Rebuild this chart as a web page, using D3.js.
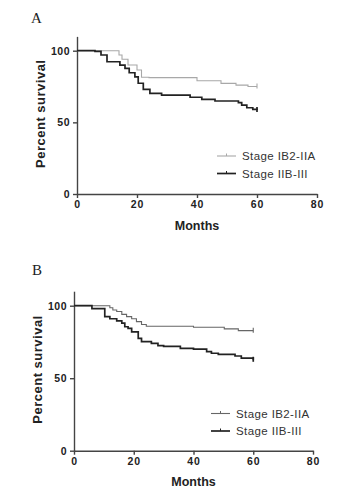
<!DOCTYPE html>
<html><head><meta charset="utf-8">
<script src="https://cdn.jsdelivr.net/npm/d3@7"></script>
<style>body{margin:0;background:#fff}svg{display:block}</style>
</head><body>
<svg id="c" width="343" height="500"></svg>
<script>
const seriesNames = ["Stage IB2-IIA", "Stage IIB-III"];
const xTicks = [0, 20, 40, 60, 80];
const yTicks = [0, 50, 100];

// Panel A
const aIB_months = [0, 14, 15, 17, 20, 21.5, 24, 40, 48, 53, 57, 60];
const aIB_values = [100, 97, 94, 90, 86.5, 81.5, 81.2, 79, 77.2, 76, 75, 75];
const aIIB_months = [0, 6, 8, 10, 14.3, 16, 17.4, 19.3, 20.4, 22.1, 24.3, 28.2, 37.7, 41.6, 46, 53.8, 54.9, 56.6, 58.6, 60];
const aIIB_values = [100, 99.5, 97, 92.3, 90, 87.7, 84.6, 81.8, 77.3, 73, 70.2, 69, 67.5, 66, 64.9, 63.7, 62, 60.2, 59, 58.6];

// Panel B
const bIB_months = [0, 12, 13, 14.3, 16, 17.6, 19.3, 20.9, 22.6, 24.2, 40, 50.3, 55, 60];
const bIB_values = [100, 98.6, 97, 96, 94, 92.5, 91, 89, 87, 85.8, 85.1, 84, 82.8, 82.8];
const bIIB_months = [0, 6, 10.3, 12, 14.3, 16, 17, 18.1, 19.3, 21.5, 22.6, 25.9, 28.1, 30, 35.6, 40, 44.4, 46, 48.3, 53.9, 56, 60];
const bIIB_values = [100, 98, 92.5, 91, 89.5, 88, 85.5, 84.4, 82, 77.5, 75.2, 74, 72.4, 72, 70.6, 70, 68.3, 67.2, 66.5, 65.3, 63.8, 62.7];

const svg = d3.select("#c");
const zip = (m, v) => m.map((d, i) => [d, v[i]]);

const panels = [
  {label: "A", lx: 31, ly: 23, x0: 77, x1: 317, y0: 194, y100: 50.7, ylabX: 45, legX: 217, legY: 156,
   s1: zip(aIB_months, aIB_values), s2: zip(aIIB_months, aIIB_values), c1: "#a8a8a8", xlabY: 211, monthsY: 230},
  {label: "B", lx: 32, ly: 275, x0: 74, x1: 313, y0: 450.7, y100: 305.7, ylabX: 42, legX: 211, legY: 413.5,
   s1: zip(bIB_months, bIB_values), s2: zip(bIIB_months, bIIB_values), c1: "#666", xlabY: 467, monthsY: 486}
];

panels.forEach(p => {
  const x = d3.scaleLinear().domain([0, 80]).range([p.x0, p.x1]);
  const y = d3.scaleLinear().domain([0, 100]).range([p.y0, p.y100]);
  const g = svg.append("g");
  const axisColor = "#444";

  g.append("text").attr("x", p.lx).attr("y", p.ly)
    .attr("font-family", "Liberation Serif, Times New Roman, serif").attr("font-size", 15).attr("fill", "#222").text(p.label);

  // x axis
  const xa = g.append("g").attr("transform", `translate(0,${p.y0})`)
    .call(d3.axisBottom(x).tickValues(xTicks).tickSize(4).tickPadding(3).tickSizeOuter(0));
  xa.select(".domain").attr("stroke", axisColor).attr("stroke-width", 1.4);
  xa.selectAll(".tick line").attr("stroke", axisColor).attr("stroke-width", 1.4);
  xa.selectAll(".tick text").attr("font-family", "Liberation Sans, Arial, sans-serif")
    .attr("font-weight", "bold").attr("font-size", 10.5).attr("fill", "#222").attr("letter-spacing", "0.8px");

  // y axis (extends to 110)
  const ya = g.append("g").attr("transform", `translate(${p.x0},0)`)
    .call(d3.axisLeft(y.copy().domain([0, 110]).range([p.y0, y(110)])).tickValues(yTicks).tickSize(4).tickPadding(3).tickSizeOuter(0));
  ya.select(".domain").attr("stroke", axisColor).attr("stroke-width", 1.4);
  ya.selectAll(".tick line").attr("stroke", axisColor).attr("stroke-width", 1.4);
  ya.selectAll(".tick text").attr("font-family", "Liberation Sans, Arial, sans-serif")
    .attr("font-weight", "bold").attr("font-size", 10.5).attr("fill", "#222").attr("letter-spacing", "0.5px");

  g.append("text").attr("transform", `translate(${p.ylabX},${y(56)}) rotate(-90)`)
    .attr("text-anchor", "middle").attr("font-family", "Liberation Sans, Arial, sans-serif")
    .attr("font-weight", "bold").attr("font-size", 13).attr("letter-spacing", "0.5px").attr("fill", "#222").text("Percent survival");

  g.append("text").attr("x", x(40)).attr("y", p.monthsY).attr("text-anchor", "middle")
    .attr("font-family", "Liberation Sans, Arial, sans-serif").attr("font-weight", "bold").attr("font-size", 12.5)
    .attr("fill", "#222").text("Months");

  const line = d3.line().x(d => x(d[0])).y(d => y(d[1])).curve(d3.curveStepAfter);
  const series = [
    {data: p.s1, color: p.c1, w: 1.1},
    {data: p.s2, color: "#222", w: 1.7}
  ];
  series.forEach(s => {
    g.append("path").datum(s.data).attr("d", line).attr("fill", "none")
      .attr("stroke", s.color).attr("stroke-width", s.w);
    const last = s.data[s.data.length - 1];
    g.append("line").attr("x1", x(last[0])).attr("x2", x(last[0]))
      .attr("y1", y(last[1]) - 3).attr("y2", y(last[1]) + 2)
      .attr("stroke", s.color).attr("stroke-width", s.w);
  });

  // legend
  series.forEach((s, i) => {
    const ly = p.legY + i * 17.5;
    g.append("line").attr("x1", p.legX).attr("x2", p.legX + 19).attr("y1", ly).attr("y2", ly)
      .attr("stroke", s.color).attr("stroke-width", s.w);
    g.append("line").attr("x1", p.legX + 9.5).attr("x2", p.legX + 9.5).attr("y1", ly - 2.5).attr("y2", ly)
      .attr("stroke", s.color).attr("stroke-width", 1);
    g.append("text").attr("x", p.legX + 25).attr("y", ly + 4).attr("font-family", "Liberation Sans, Arial, sans-serif")
      .attr("font-size", 11.5).attr("letter-spacing", "0.4px").attr("fill", "#333").text(seriesNames[i]);
  });
});
</script>
</body></html>
